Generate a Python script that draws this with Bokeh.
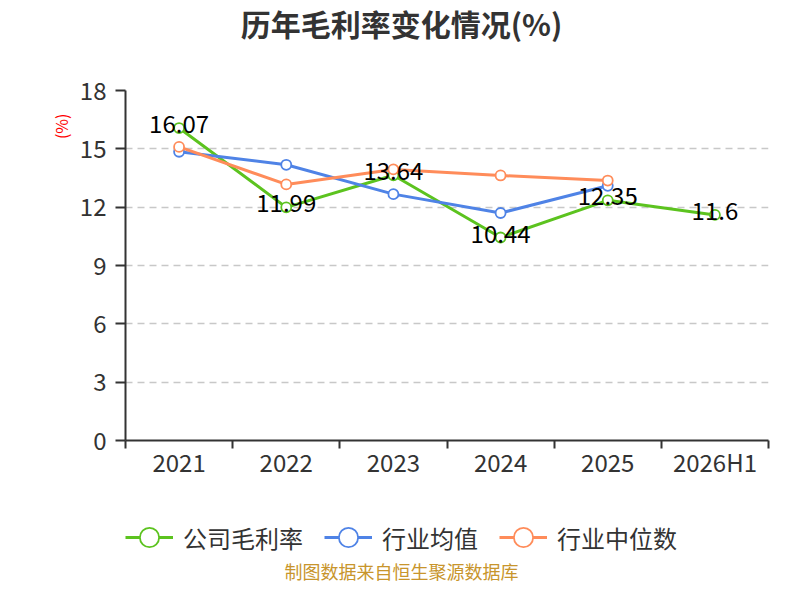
from bokeh.plotting import figure
from bokeh.models import (ColumnDataSource, FixedTicker, Legend, LegendItem,
                          Range1d, Title, Label)
from bokeh.layouts import column
from bokeh.embed import file_html
from bokeh.resources import INLINE
from bokeh.core.properties import value

# ---- data ----
categories = ["2021", "2022", "2023", "2024", "2025", "2026H1"]
company = [16.07, 11.99, 13.64, 10.44, 12.35, 11.6]
industry_avg = [14.85, 14.18, 12.67, 11.70, 13.10]
industry_median = [15.10, 13.17, 13.94, 13.63, 13.37]
y_ticks = [0, 3, 6, 9, 12, 15, 18]

title_text = "历年毛利率变化情况(%)"
source_text = "制图数据来自恒生聚源数据库"
axis_name = "(%)"
series_names = ["公司毛利率", "行业均值", "行业中位数"]
colors = ["#5cc31f", "#4f83e6", "#ff8c5a"]
series_values = [company, industry_avg, industry_median]

FONT = "Noto Sans CJK SC"
AXIS_COLOR = "#333333"
W = 784
H_TOP, H_MAIN, H_BOT = 46, 454, 84
BORDER_L, BORDER_R = 125, 16


def strip_fig(height):
    # a strip whose frame spans the same columns as the main plot frame;
    # x and y ranges are set up in pixels (y downward) for placing annotations
    f = figure(width=W, height=height, output_backend="svg", toolbar_location=None,
               x_range=Range1d(BORDER_L, W - BORDER_R), y_range=Range1d(height, 0),
               x_axis_type=None, y_axis_type=None, min_border=0,
               min_border_left=BORDER_L, min_border_right=BORDER_R)
    f.outline_line_color = None
    f.grid.visible = False
    f.background_fill_color = "white"
    f.border_fill_color = "white"
    return f


# ---- title strip ----
top = strip_fig(H_TOP)
top.add_layout(Label(x=401, y=22, text=title_text, text_align="center",
                     text_baseline="middle", text_font=FONT, text_font_size="30px",
                     text_font_style="bold", text_color=AXIS_COLOR))

# ---- main chart ----
p = figure(width=W, height=H_MAIN, output_backend="svg", toolbar_location=None,
           x_range=Range1d(0, len(categories)), y_range=Range1d(0, 18),
           min_border_left=BORDER_L, min_border_right=BORDER_R, min_border_top=44,
           min_border_bottom=60)
p.outline_line_color = None
p.background_fill_color = "white"
p.border_fill_color = "white"

xs = [i + 0.5 for i in range(len(categories))]

p.xaxis.ticker = FixedTicker(ticks=xs, minor_ticks=list(range(len(categories) + 1)))
p.xaxis.major_label_overrides = {x: c for x, c in zip(xs, categories)}
p.xaxis.major_tick_out = 0
p.xaxis.major_tick_in = 0
p.xaxis.minor_tick_out = 8
p.xaxis.minor_tick_in = 0
p.xaxis.minor_tick_line_color = AXIS_COLOR
p.xaxis.minor_tick_line_width = 2
p.xaxis.axis_line_color = AXIS_COLOR
p.xaxis.axis_line_width = 2
p.xaxis.major_label_text_font = FONT
p.xaxis.major_label_text_font_size = "24px"
p.xaxis.major_label_text_color = AXIS_COLOR
p.xaxis.major_label_standoff = -5

p.yaxis.ticker = FixedTicker(ticks=y_ticks)
p.yaxis.minor_tick_line_color = None
p.yaxis.major_tick_out = 10
p.yaxis.major_tick_in = 0
p.yaxis.major_tick_line_color = AXIS_COLOR
p.yaxis.major_tick_line_width = 2
p.yaxis.axis_line_color = AXIS_COLOR
p.yaxis.axis_line_width = 2
p.yaxis.major_label_text_font = FONT
p.yaxis.major_label_text_font_size = "24px"
p.yaxis.major_label_text_color = AXIS_COLOR
p.yaxis.major_label_standoff = 9

p.xgrid.grid_line_color = None
p.ygrid.grid_line_color = "#c8c8c8"
p.ygrid.grid_line_dash = "7 5"
p.ygrid.grid_line_width = 1.5

for vals, col in zip(series_values, colors):
    src = ColumnDataSource(dict(x=xs[:len(vals)], y=vals))
    p.line("x", "y", source=src, line_color=col, line_width=3)
    p.scatter("x", "y", source=src, size=10, marker="circle",
              fill_color="white", line_color=col, line_width=1.8)

lab_src = ColumnDataSource(dict(x=xs, y=company, t=[f"{v:g}" for v in company]))
p.text("x", "y", text="t", source=lab_src, text_align="center",
       text_baseline="middle", y_offset=-4, text_font=value(FONT),
       text_font_size="24px", text_color="#000000")

p.add_layout(Title(text=axis_name, align="right", vertical_align="middle",
                   offset=23, standoff=5, text_font=FONT, text_font_size="16px",
                   text_font_style="normal", text_color="#ff0000"), "left")

# ---- legend + source strip ----
bot = strip_fig(H_BOT)
items = []
for name, vals, col in zip(series_names, series_values, colors):
    # same series, styled the same; they fall outside this strip's ranges,
    # so only their legend glyphs are shown
    src = ColumnDataSource(dict(x=xs[:len(vals)], y=vals))
    ln = bot.line("x", "y", source=src, line_color=col, line_width=3)
    sc = bot.scatter("x", "y", source=src, size=10, marker="circle",
                     fill_color="white", line_color=col, line_width=1.8)
    items.append(LegendItem(label=name, renderers=[ln, sc]))
legend = Legend(items=items, orientation="horizontal", location=(0, 20),
                glyph_width=48, glyph_height=54, label_standoff=10, spacing=21,
                padding=0, margin=0, border_line_color=None,
                background_fill_alpha=0, label_text_font=FONT,
                label_text_font_size="24px", label_text_color=AXIS_COLOR,
                label_height=54)
bot.add_layout(legend, "center")
bot.add_layout(Label(x=401, y=70, text=source_text, text_align="center",
                     text_baseline="middle", text_font=FONT, text_font_size="18px",
                     text_color="#c8952c"))

layout = column(top, p, bot, spacing=0)
open("out.html", "w").write(file_html(layout, INLINE))
